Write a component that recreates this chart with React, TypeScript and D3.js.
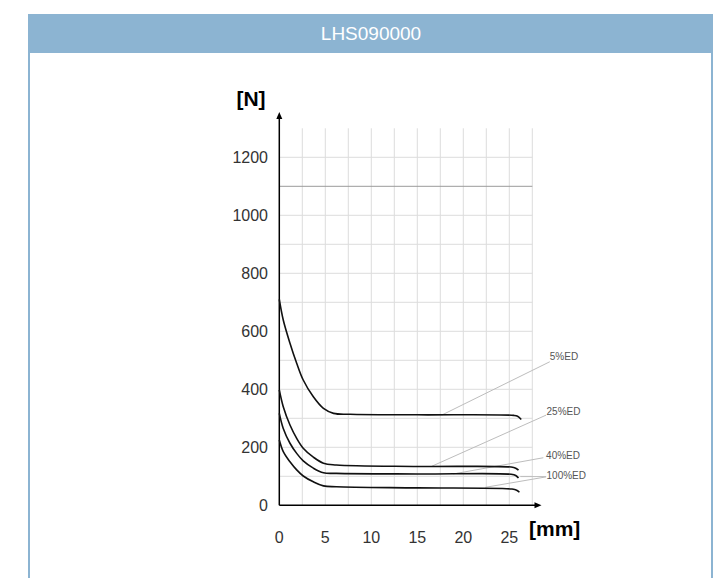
import React from "react";
import * as d3 from "d3";

const title = "LHS090000";
const yTicks = [0, 200, 400, 600, 800, 1000, 1200];
const xTicks = [0, 5, 10, 15, 20, 25];
const xGrid = [2.5, 5, 7.5, 10, 12.5, 15, 17.5, 20, 22.5, 25, 27.5];
const yGrid = [100, 200, 300, 400, 500, 600, 700, 800, 900, 1000, 1200];
const yStrongGrid = [1100];

const seriesNames = ["5%ED", "25%ED", "40%ED", "100%ED"];
const x5 = [0, 0.43, 1.16, 1.89, 2.6, 3.7, 4.8, 5.9, 7.7, 15, 25.5, 25.9, 26.3];
const y5 = [710, 639, 559, 490, 432, 374, 334, 317, 314, 312, 310, 307, 296];
const x25 = [0, 0.43, 1.16, 1.89, 2.6, 3.7, 4.8, 6.2, 15, 25.2, 25.7, 26.0];
const y25 = [398, 340, 277, 231, 197, 166, 145, 139, 134, 132, 128, 121];
const x40 = [0, 0.43, 1.16, 1.89, 2.6, 3.7, 4.8, 6.2, 15, 25.2, 25.7, 26.0];
const y40 = [317, 265, 214, 179, 153, 128, 112, 110, 108, 107, 103, 94];
const x100 = [0, 0.43, 1.16, 1.89, 2.6, 3.7, 4.8, 6.2, 15, 25.3, 25.8, 26.1];
const y100 = [225, 185, 150, 122, 101, 81, 67, 64, 60, 56, 52, 45];

// label positions (data units) and leader lines
const labelX = [29.4, 29.05, 29.0, 29.05];
const labelY = [512, 324, 173, 103];
const leaderFromX = [17.65, 16.6, 18.9, 22.4];
const leaderFromY = [311, 135, 108, 62];
const leaderToX = [29.4, 29.0, 28.7, 29.0];
const leaderToY = [495, 311, 164, 98];
const extraLeaderX = [26.2, 29.0];
const extraLeaderY = [99, 99];

export default function App() {
  const x = d3.scaleLinear().domain([0, 27.5]).range([279.3, 532.3]);
  const y = d3.scaleLinear().domain([0, 1300]).range([505.3, 128.3]);
  const xs = [x5, x25, x40, x100];
  const ys = [y5, y25, y40, y100];
  const line = d3
    .line<[number, number]>()
    .x((d) => x(d[0]))
    .y((d) => y(d[1]))
    .curve(d3.curveCatmullRom.alpha(0.5));

  const font = "'Liberation Sans', Arial, Helvetica, sans-serif";
  const x0 = x(0);
  const y0 = y(0);
  const yTop = y(1356);
  const xEnd = x(28.5);

  return (
    <svg
      width={715}
      height={578}
      style={{ position: "absolute", left: 0, top: 0, background: "#fff" }}
      fontFamily={font}
    >
      <rect x={28} y={14} width={685} height={39} fill="#8cb4d2" />
      <line x1={29} y1={53} x2={29} y2={578} stroke="#8cb4d2" strokeWidth={2} />
      <line x1={712} y1={53} x2={712} y2={578} stroke="#8cb4d2" strokeWidth={2} />
      <text x={371} y={40} fill="#fff" fontSize={19} textAnchor="middle">
        {title}
      </text>

      {/* grid */}
      {xGrid.map((v) => (
        <line key={"xg" + v} x1={x(v)} x2={x(v)} y1={y(0)} y2={y(1300)} stroke="#dcdcdc" strokeWidth={1} />
      ))}
      {yGrid.map((v) => (
        <line key={"yg" + v} x1={x(0)} x2={x(27.5)} y1={y(v)} y2={y(v)} stroke="#dcdcdc" strokeWidth={1} />
      ))}
      {yStrongGrid.map((v) => (
        <line key={"ys" + v} x1={x(0)} x2={x(27.5)} y1={y(v)} y2={y(v)} stroke="#9a9a9a" strokeWidth={1} />
      ))}

      {/* leader lines */}
      {seriesNames.map((n, i) => (
        <line
          key={"ld" + n}
          x1={x(leaderFromX[i])}
          y1={y(leaderFromY[i])}
          x2={x(leaderToX[i])}
          y2={y(leaderToY[i])}
          stroke="#bdbdbd"
          strokeWidth={1}
        />
      ))}
      <line
        x1={x(extraLeaderX[0])}
        y1={y(extraLeaderY[0])}
        x2={x(extraLeaderX[1])}
        y2={y(extraLeaderY[1])}
        stroke="#bdbdbd"
        strokeWidth={1}
      />

      {/* axes */}
      <line x1={x0} y1={y0} x2={x0} y2={yTop + 6} stroke="#000" strokeWidth={1.5} />
      <path d={`M${x0 - 3},${yTop + 7} L${x0},${yTop} L${x0 + 3},${yTop + 7} Z`} fill="#000" />
      <line x1={x0} y1={y0} x2={xEnd - 6} y2={y0} stroke="#000" strokeWidth={1.5} />
      <path d={`M${xEnd - 7},${y0 - 3} L${xEnd},${y0} L${xEnd - 7},${y0 + 3} Z`} fill="#000" />

      {/* curves */}
      {seriesNames.map((n, i) => (
        <path
          key={"c" + n}
          d={line(xs[i].map((v, j) => [v, ys[i][j]] as [number, number])) || ""}
          fill="none"
          stroke="#111"
          strokeWidth={1.6}
        />
      ))}

      {/* labels */}
      {seriesNames.map((n, i) => (
        <text
          key={"lb" + n}
          x={x(labelX[i])}
          y={y(labelY[i])}
          dy="0.35em"
          fontSize={10}
          fill="#555"
        >
          {n}
        </text>
      ))}

      {/* tick labels */}
      {yTicks.map((v) => (
        <text key={"yt" + v} x={268} y={y(v)} dy="0.35em" textAnchor="end" fontSize={16} fill="#333">
          {v}
        </text>
      ))}
      {xTicks.map((v) => (
        <text key={"xt" + v} x={x(v)} y={537} dy="0.35em" textAnchor="middle" fontSize={16} fill="#333">
          {v}
        </text>
      ))}

      <text x={251} y={106} textAnchor="middle" fontSize={21} fontWeight="bold" fill="#000">
        [N]
      </text>
      <text x={529} y={536} fontSize={21} fontWeight="bold" fill="#000">
        [mm]
      </text>
    </svg>
  );
}
